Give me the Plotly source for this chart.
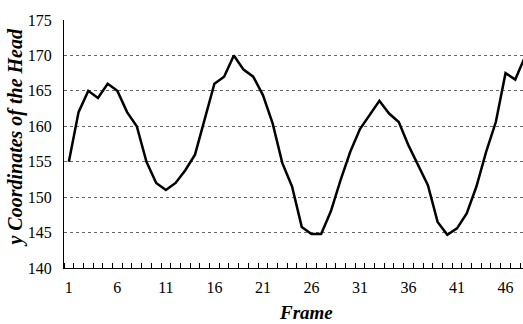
import plotly.graph_objects as go

frames = list(range(1, 49))
y_head = [155, 162, 165, 164, 166, 165, 162, 160, 155, 152,
          151, 152, 153.8, 156, 161, 166, 167, 170, 168, 167,
          164.4, 160.4, 154.8, 151.5, 145.8, 144.8, 144.8, 148, 152.4, 156.4,
          159.6, 161.6, 163.6, 161.8, 160.6, 157.3, 154.4, 151.7, 146.5, 144.7,
          145.6, 147.7, 151.5, 156.4, 160.6, 167.5, 166.6, 169.8]
x_label_vals = [1, 6, 11, 16, 21, 26, 31, 36, 41, 46]
y_tick_vals = [140, 145, 150, 155, 160, 165, 170, 175]

serif = "Liberation Serif"

fig = go.Figure()
fig.add_trace(go.Scatter(x=frames, y=y_head, mode="lines",
                         line=dict(color="black", width=2.5), showlegend=False))

fig.update_layout(
    width=523, height=324,
    margin=dict(l=64, r=0, t=20, b=56, autoexpand=False),
    paper_bgcolor="white", plot_bgcolor="white",
    font=dict(family=serif, size=16, color="black"),
    xaxis=dict(
        range=[0.5, 47.8], tickvals=x_label_vals, ticks="", showgrid=False,
        showline=True, linecolor="black", linewidth=1, zeroline=False,
        ticklabelstandoff=5, automargin=False,
        minor=dict(ticks="inside", tick0=0.5, dtick=1, ticklen=5,
                   tickcolor="black", tickwidth=1, showgrid=False),
    ),
    yaxis=dict(
        range=[140, 175], tickvals=y_tick_vals, ticks="",
        showgrid=True, gridcolor="#666", griddash="dot", gridwidth=1,
        showline=True, linecolor="black", linewidth=1, zeroline=False,
        ticklabelstandoff=8, automargin=False,
    ),
    annotations=[
        dict(text="y Coordinates of the Head", xref="paper", yref="paper",
             x=-0.1046, y=0.53, xanchor="center", yanchor="middle",
             textangle=-90, showarrow=False,
             font=dict(family=serif, size=20, weight="bold", style="italic")),
        dict(text="Frame", xref="paper", yref="paper",
             x=0.527, y=-0.128, xanchor="center", yanchor="top",
             showarrow=False,
             font=dict(family=serif, size=19, weight="bold", style="italic")),
    ],
)

fig.write_html("out.html", config={"displayModeBar": False},
               post_script="document.body.style.margin='0px';document.body.style.overflow='hidden';")
